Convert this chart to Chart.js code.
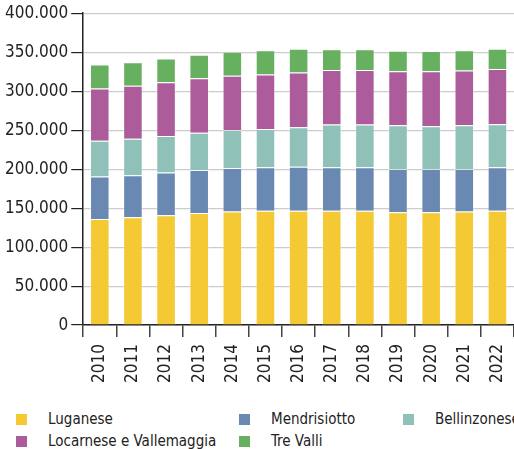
<!DOCTYPE html>
<html>
<head>
    <meta charset="utf-8">
    <script src="https://cdn.jsdelivr.net/npm/chart.js"></script>
    <title>Popolazione per regione</title>
    <style>
        body {
            margin: 0;
            background: #fff;
            font-family: "Liberation Sans Narrow", "DejaVu Sans Condensed", sans-serif;
            overflow: hidden;
        }

        .wrap {
            position: relative;
            width: 514px;
            height: 390px;
        }

        #legend {
            display: grid;
            grid-template-columns: 223px 164px 111px;
            margin: 20px 0 0 16px;
            row-gap: 3px;
            font-size: 15px;
            color: #222;
        }

        #legend div {
            display: flex;
            align-items: center;
            line-height: 19px;
            white-space: nowrap;
        }

        #legend span {
            display: inline-block;
            flex-shrink: 0;
            width: 11px;
            height: 11px;
            margin-right: 21px;
        }
    </style>
</head>
<body>
    <div class="wrap">
        <canvas id="chart"></canvas>
    </div>
    <div id="legend"></div>
    <script>
        const years = ['2010', '2011', '2012', '2013', '2014', '2015', '2016', '2017', '2018', '2019', '2020', '2021', '2022']

        // stacked values, one array per region
        const luganese = [136000, 138200, 140900, 143900, 145700, 146500, 146500, 146500, 146500, 144800, 144800, 145700, 146500]
        const mendrisiotto = [54600, 54100, 54900, 54900, 55700, 55800, 56700, 55800, 55800, 55300, 55300, 54400, 55800]
        const bellinzonese = [45800, 46700, 46700, 48000, 48900, 49300, 50500, 55000, 55000, 56300, 55000, 56300, 55400]
        const locarnese = [67100, 68000, 68800, 69700, 69400, 69800, 70300, 69700, 69700, 69300, 70600, 70200, 70600]
        const treValli = [30600, 30100, 30600, 30100, 30800, 31000, 30500, 26700, 26700, 26100, 25700, 25800, 26200]

        const names = ['Luganese', 'Mendrisiotto', 'Bellinzonese', 'Locarnese e Vallemaggia', 'Tre Valli']
        const colors = ['#f4c933', '#6a89b2', '#8fc1b9', '#ac5c9a', '#66b05f']
        const series = [luganese, mendrisiotto, bellinzonese, locarnese, treValli]

        Chart.defaults.font.family = '"Liberation Sans Narrow", "DejaVu Sans Condensed", sans-serif'
        Chart.defaults.color = '#222'

        const chart = new Chart(document.getElementById('chart'), {
            type: 'bar',
            data: {
                labels: years,
                datasets: series.map(function (s, i) {
                    return {
                        label: names[i],
                        data: s,
                        backgroundColor: colors[i],
                        borderColor: 'rgba(255, 255, 255, 0.35)',
                        borderWidth: 1,
                        categoryPercentage: 1,
                        barPercentage: 0.59
                    }
                })
            },
            options: {
                responsive: true,
                maintainAspectRatio: false,
                animation: false,
                layout: {
                    padding: { top: 13, right: 0, bottom: 0, left: 2 }
                },
                plugins: {
                    legend: { display: false },
                    tooltip: { enabled: false }
                },
                scales: {
                    x: {
                        stacked: true,
                        border: { color: '#222', width: 1.5 },
                        grid: {
                            drawOnChartArea: false,
                            tickLength: 12,
                            tickColor: '#444',
                            lineWidth: 1.5
                        },
                        ticks: {
                            minRotation: 90,
                            maxRotation: 90,
                            padding: 7,
                            font: { size: 17 }
                        },
                        // plot runs right up to the edge in the original
                        afterFit: function (scale) {
                            scale.paddingRight = 0
                        }
                    },
                    y: {
                        stacked: true,
                        min: 0,
                        max: 400000,
                        border: { color: '#222', width: 1.5 },
                        grid: {
                            color: '#cccccc',
                            tickColor: '#222',
                            tickLength: 12,
                            lineWidth: 1.2
                        },
                        ticks: {
                            stepSize: 50000,
                            padding: 3,
                            font: { size: 17 },
                            callback: function (v) {
                                return String(v).replace(/\B(?=(\d{3})+(?!\d))/g, '.')
                            }
                        }
                    }
                }
            }
        })

        // html legend in a 3 column grid, built from the chart's own items
        const legend = document.getElementById('legend')
        chart.options.plugins.legend.labels.generateLabels(chart).forEach(function (item) {
            const row = document.createElement('div')
            const box = document.createElement('span')
            box.style.background = item.fillStyle
            row.appendChild(box)
            row.appendChild(document.createTextNode(item.text))
            legend.appendChild(row)
        })
    </script>
</body>
</html>
